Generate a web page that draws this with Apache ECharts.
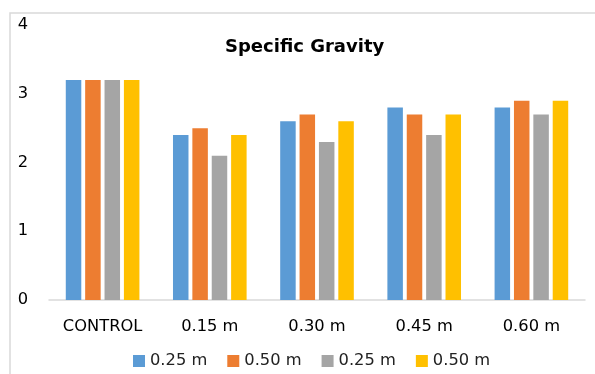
<!DOCTYPE html>
<html>
<head>
<meta charset="utf-8">
<script src="https://cdn.jsdelivr.net/npm/echarts@6/dist/echarts.min.js"></script>
<style>
html,body{margin:0;padding:0;background:#fff;}
#chart{width:595px;height:374px;}
</style>
</head>
<body>
<div id="chart"></div>
<script>
const categories = ['CONTROL', '0.15 m', '0.30 m', '0.45 m', '0.60 m'];
const seriesNames = ['0.25 m', '0.50 m', '0.25 m ', '0.50 m '];
const s1 = [3.2, 2.4, 2.6, 2.8, 2.8];
const s2 = [3.2, 2.5, 2.7, 2.7, 2.9];
const s3 = [3.2, 2.1, 2.3, 2.4, 2.7];
const s4 = [3.2, 2.4, 2.6, 2.7, 2.9];
const yTicks = [0, 1, 2, 3, 4];
const colors = ['#5B9BD5', '#ED7D31', '#A5A5A5', '#FFC000'];
const values = [s1, s2, s3, s4];

const font = '"DejaVu Sans", sans-serif';
const chart = echarts.init(document.getElementById('chart'));
chart.setOption({
  animation: false,
  backgroundColor: '#fff',
  graphic: [{
    type: 'rect',
    shape: {x: 10, y: 13, width: 700, height: 500},
    style: {fill: 'none', stroke: '#d9d9d9', lineWidth: 1.5},
    silent: true
  }],
  title: {
    text: 'Specific Gravity',
    left: 225,
    top: 38,
    padding: 0,
    textStyle: {fontFamily: font, fontWeight: 'bold', fontSize: 18, color: '#000'}
  },
  legend: {
    data: seriesNames,
    top: 353,
    left: 133,
    padding: 0,
    itemWidth: 12,
    itemHeight: 12,
    itemGap: 20,
    icon: 'rect',
    formatter: n => n.trim(),
    textStyle: {fontFamily: font, fontSize: 16.3, color: '#222'}
  },
  grid: {left: 49, right: 10, top: 25, bottom: 74, containLabel: false},
  xAxis: {
    type: 'category',
    data: categories,
    axisLine: {lineStyle: {color: '#d9d9d9', width: 1.5}},
    axisTick: {show: false},
    axisLabel: {fontFamily: font, fontSize: 16.3, color: '#000', margin: 19, interval: 0}
  },
  yAxis: {
    type: 'value',
    min: yTicks[0],
    max: yTicks[yTicks.length - 1],
    interval: 1,
    splitLine: {show: false},
    axisLine: {show: false},
    axisTick: {show: false},
    axisLabel: {fontFamily: font, fontSize: 16.3, color: '#000', margin: 21}
  },
  series: values.map((v, i) => ({
    name: seriesNames[i],
    type: 'bar',
    data: v,
    barWidth: 15.5,
    barGap: '25%',
    itemStyle: {color: colors[i]}
  }))
});
</script>
</body>
</html>
